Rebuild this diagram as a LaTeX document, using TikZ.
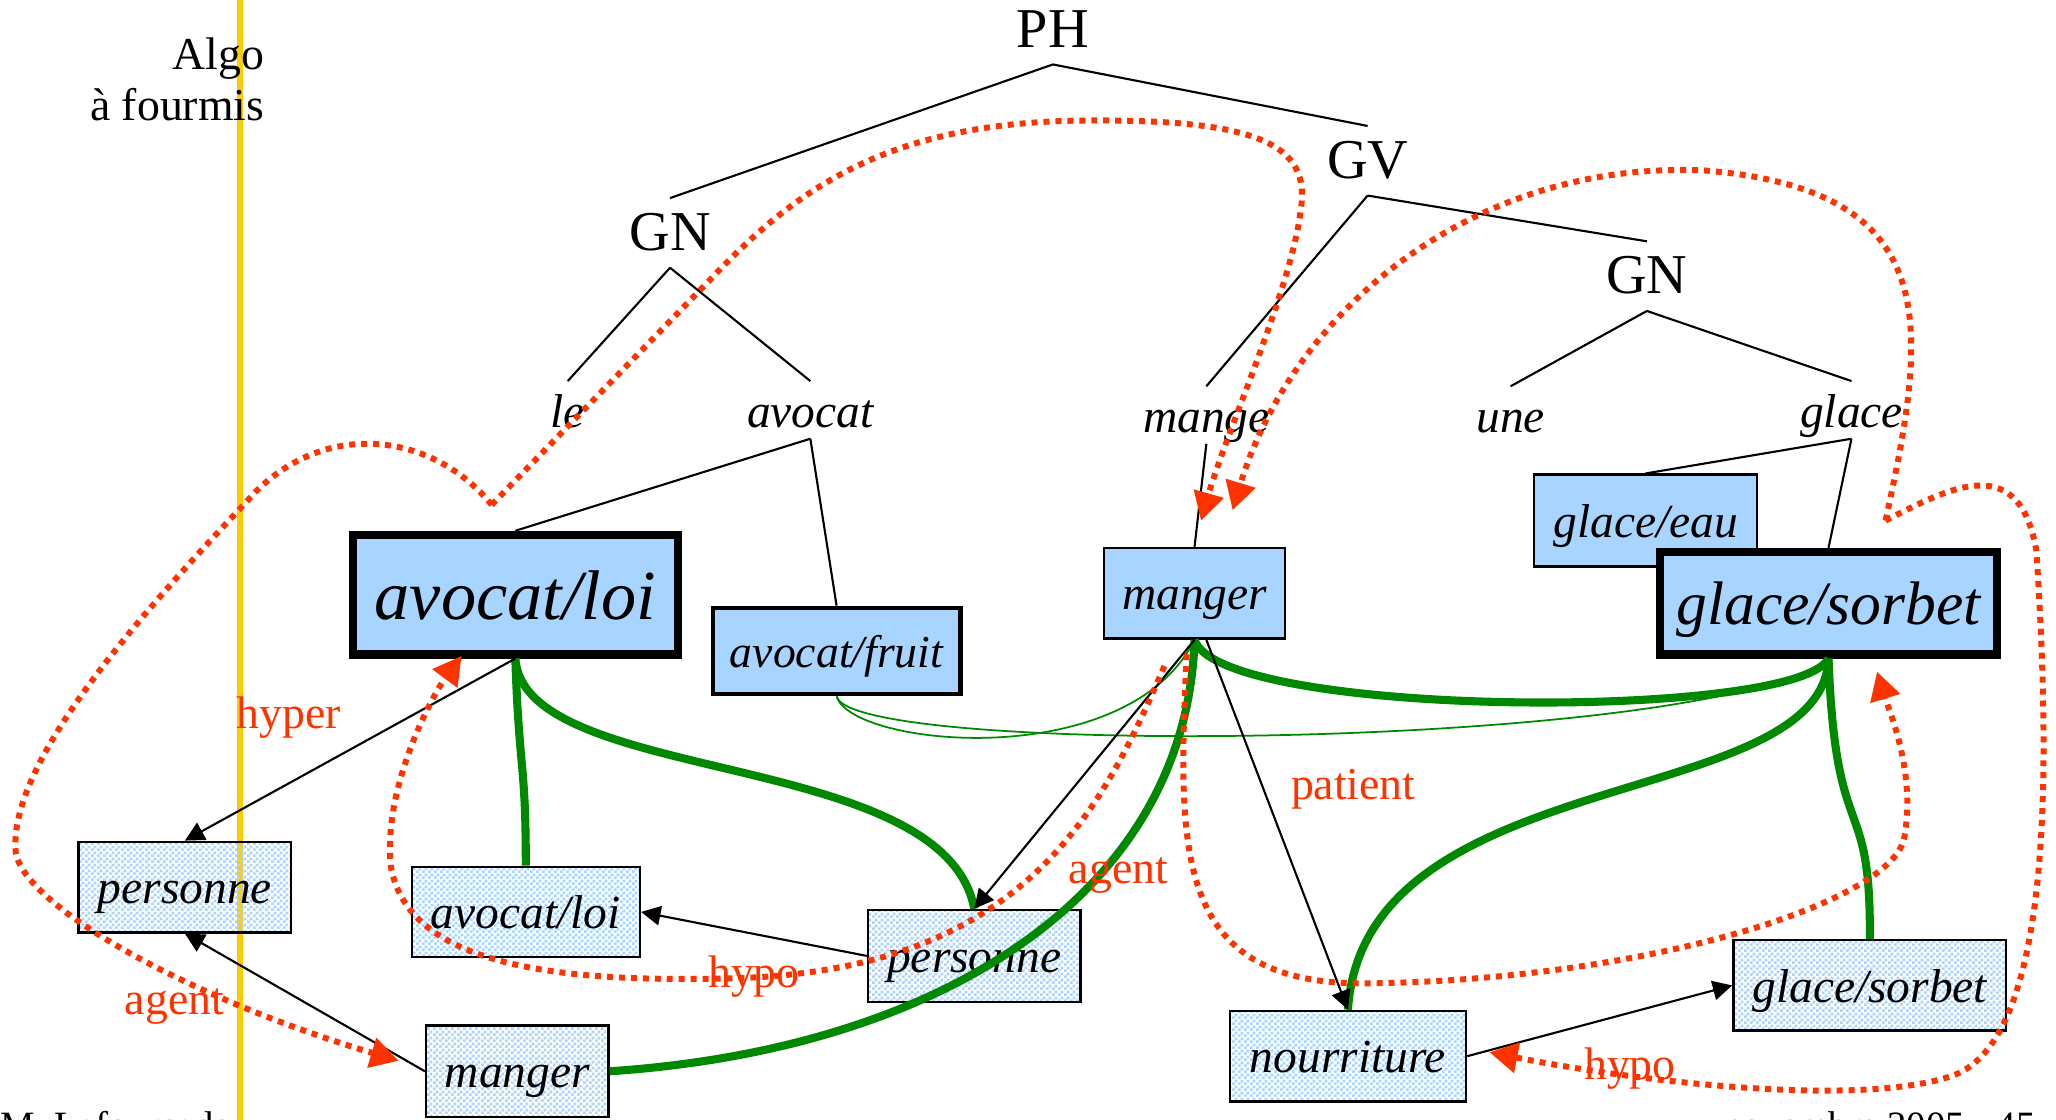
\documentclass[tikz,border=0pt]{standalone}
\usepackage{fontspec}
\setmainfont{Liberation Serif}
\usetikzlibrary{arrows.meta,calc,patterns}

\definecolor{boxblue}{RGB}{168,213,255}
\definecolor{antred}{RGB}{255,51,0}
\definecolor{antgreen}{RGB}{0,136,0}
\definecolor{algoyellow}{RGB}{255,204,0}

\newcommand{\pu}{0.013112cm}

\pgfdeclarepatternformonly{finecheck}{\pgfpointorigin}{\pgfqpoint{1.6pt}{1.6pt}}{\pgfqpoint{1.6pt}{1.6pt}}{%
  \pgfpathrectangle{\pgfpointorigin}{\pgfqpoint{0.8pt}{0.8pt}}%
  \pgfpathrectangle{\pgfqpoint{0.8pt}{0.8pt}}{\pgfqpoint{0.8pt}{0.8pt}}%
  \pgfusepath{fill}}

\tikzset{
  taille/.style 2 args={minimum width=#1*\pu, minimum height=#2*\pu},
  cat/.style={inner sep=4.7pt, text height=10pt, text depth=0pt, anchor=base, font=\fontsize{16}{18}\selectfont},
  mot/.style={inner sep=3pt, text height=10pt, text depth=0pt, anchor=base, font=\itshape\fontsize{13.5}{16}\selectfont},
  arbre/.style={line width=0.6pt},
  sens/.style={draw, line width=0.7pt, fill=boxblue, inner sep=0pt, text height=10.8pt, text depth=1.35pt, font=\itshape\fontsize{13.5}{16}\selectfont},
  sensmoyen/.style={sens, line width=1.2pt},
  sensfort/.style={sens, line width=2.4pt},
  concept/.style={draw, line width=0.7pt, pattern=finecheck, pattern color=boxblue, inner sep=0pt, text height=10.8pt, text depth=1.35pt, font=\itshape\fontsize{13.5}{16}\selectfont},
  lien/.style={antgreen, line width=2.3pt},
  lienfin/.style={antgreen, line width=0.5pt},
  rel/.style={-{Triangle[length=5.5pt,width=5.5pt]}, line width=0.6pt},
  fourmi/.style={antred, line width=1.7pt, dash pattern=on 1.7pt off 1.7pt, -{Triangle[length=8pt,width=8.5pt]}},
  etiq/.style={text=antred, inner sep=0pt, font=\fontsize{13}{15}\selectfont}
}

\begin{document}
\begin{tikzpicture}[x=\pu, y=-\pu]
\clip (0,0) rectangle (1568,854);

% ligne jaune et textes de la page
\draw[algoyellow, line width=1.5pt] (183,0) -- (183,854);
\node[align=right, anchor=north east, inner sep=0pt, font=\fontsize{13}{14.5}\selectfont] (titre) at (202,28) {Algo\\à fourmis};
\node[anchor=base west, inner sep=0pt, font=\fontsize{11}{13}\selectfont] (auteur) at (0,868) {M. Lafourcade};
\node[anchor=base east, inner sep=0pt, font=\fontsize{11}{13}\selectfont] (date) at (1553,868) {novembre 2005 - 45};

% arbre syntaxique
\node[cat] (PH) at (803,36) {PH};
\node[cat] (GN1) at (511,191) {GN};
\node[cat] (GV) at (1043,136) {GV};
\node[cat] (GN2) at (1256,224) {GN};
\node[mot] (le) at (433,326) {le};
\node[mot] (avocat) at (618,326) {avocat};
\node[mot] (mange) at (920,330) {mange};
\node[mot] (une) at (1152,330) {une};
\node[mot] (glace) at (1412,326) {glace};

\draw[arbre] (PH.south) -- (GN1.north) (PH.south) -- (GV.north);
\draw[arbre] (GN1.south) -- (le.north) (GN1.south) -- (avocat.north);
\draw[arbre] (GV.south) -- (mange.north) (GV.south) -- (GN2.north);
\draw[arbre] (GN2.south) -- (une.north) (GN2.south) -- (glace.north);

% sens des mots
\node[sensfort, taille={248}{91}, text height=16pt, text depth=2pt, font=\itshape\fontsize{20}{24}\selectfont] (aloi) at (393,453.5) {avocat/loi};
\node[sensmoyen, taille={189}{66}, text height=10.4pt, text depth=1.3pt, font=\itshape\fontsize{13}{16}\selectfont] (afruit) at (638,496.5) {avocat/fruit};
\node[sens, taille={138}{69}] (mangerT) at (911,452.5) {manger};
\node[sens, taille={170}{70}] (geau) at (1255,397) {glace/eau};
\node[sensfort, taille={257}{78}, text height=14pt, text depth=1.75pt, font=\itshape\fontsize{17.5}{21}\selectfont] (gsorbet) at (1394.5,460) {glace/sorbet};

\draw[arbre] (avocat.south) -- (aloi.north) (avocat.south) -- (afruit.north);
\draw[arbre] (mange.south) -- (mangerT.north);
\draw[arbre] (glace.south) -- (geau.north) (glace.south) -- (gsorbet.north);

% concepts
\node[concept, taille={162}{69}] (pers1) at (141,676.5) {personne};
\node[concept, taille={174}{69}] (aloi2) at (401,695.5) {avocat/loi};
\node[concept, taille={162}{70}] (pers2) at (743,729) {personne};
\node[concept, taille={139}{70}] (manger2) at (394.5,817) {manger};
\node[concept, taille={180}{69}] (nourr) at (1028,805.5) {nourriture};
\node[concept, taille={208}{69}] (gsorbet2) at (1426,751.5) {glace/sorbet};

% liens verts
\draw[lienfin] (afruit.south) .. controls (650,578) and (1300,572) .. (gsorbet.south);
\draw[lienfin] (afruit.south) .. controls (650,570) and (860,590) .. (mangerT.south);
\draw[lien] (aloi.south) .. controls (396,590) and (401,580) .. (aloi2.north);
\draw[lien] (aloi.south) .. controls (400,600) and (720,570) .. (pers2.north);
\draw[lien] (mangerT.south) .. controls (905,680) and (720,800) .. (manger2.east);
\draw[lien] (mangerT.south) .. controls (930,548) and (1370,550) .. (gsorbet.south);
\draw[lien] (gsorbet.south) .. controls (1390,620) and (1040,580) .. (nourr.north);
\draw[lien] (gsorbet.south) .. controls (1400,650) and (1427,600) .. (gsorbet2.north);

% relations
\draw[rel] (aloi.south) -- (pers1.north);
\draw[rel] (pers2.west) -- (aloi2.east);
\draw[rel] (manger2.west) -- (pers1.south);
\draw[rel] (mangerT.south) -- (pers2.north);
\draw[rel] ($(mangerT.south)+(9,0)$) -- (nourr.north);
\draw[rel] (nourr.east) -- (gsorbet2.west);

% chemins des fourmis
\coordinate (depA) at (375,385);
\coordinate (depG) at (1438,397);
\draw[fourmi] (depA) -- (540,215) .. controls (610,140) and (680,95) .. (820,92)
  .. controls (960,90) and (1000,110) .. (992,160)
  .. controls (985,220) and (935,330) .. ([shift={(5,-20)}]mangerT.north);
\draw[fourmi] (depA) .. controls (330,330) and (250,320) .. (195,375)
  .. controls (130,445) and (5,575) .. (12,650)
  .. controls (18,690) and (140,760) .. ([shift={(-20,-8)}]manger2.west);
\draw[fourmi] (depG) .. controls (1470,250) and (1485,145) .. (1300,130)
  .. controls (1120,122) and (985,240) .. ([shift={(29,-28)}]mangerT.north);
\draw[fourmi] (depG) .. controls (1490,370) and (1540,345) .. (1553,420)
  .. controls (1562,560) and (1570,790) .. (1490,820)
  .. controls (1420,845) and (1250,825) .. ([shift={(17,-3)}]nourr.east);
\draw[fourmi] ([shift={(-23,20)}]mangerT.south) .. controls (840,620) and (780,740) .. (560,746)
  .. controls (420,750) and (310,735) .. (298,660)
  .. controls (292,600) and (330,530) .. ([shift={(-41,-2)}]aloi.south);
\draw[fourmi] ([shift={(-6,11)}]mangerT.south) .. controls (898,650) and (895,750) .. (1040,750)
  .. controls (1250,748) and (1440,690) .. (1452,640)
  .. controls (1462,590) and (1440,540) .. ([shift={(37,10)}]gsorbet.south);

% etiquettes
\node[etiq] (lhyper) at (220,547) {hyper};
\node[etiq] (lagent1) at (133,768) {agent};
\node[etiq] (lhypo1) at (575,745) {hypo};
\node[etiq] (lagent2) at (853,668) {agent};
\node[etiq] (lpatient) at (1032,602) {patient};
\node[etiq] (lhypo2) at (1243,815) {hypo};
\end{tikzpicture}
\end{document}
